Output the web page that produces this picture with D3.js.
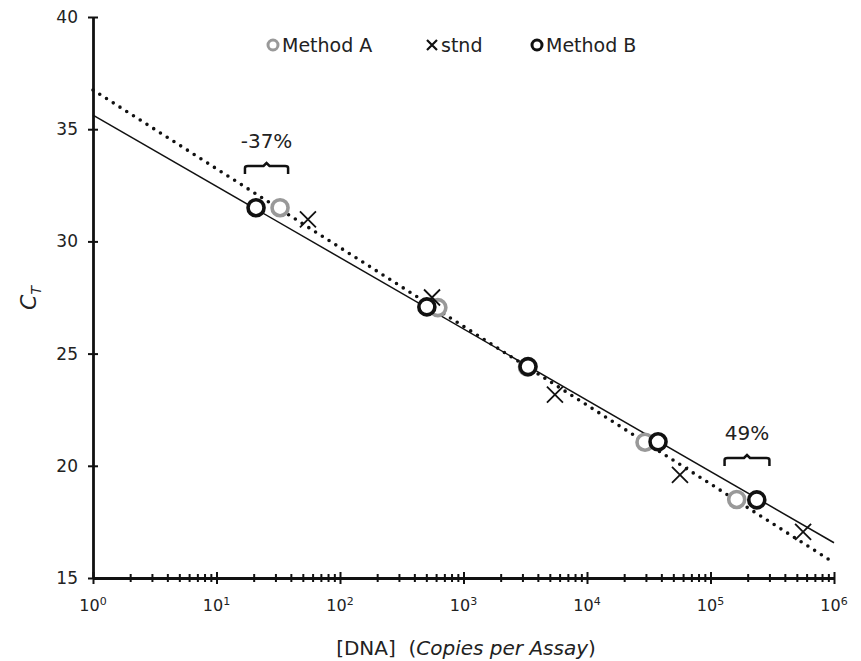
<!DOCTYPE html>
<html lang="en">
<head>
<meta charset="UTF-8">
<title>CT vs DNA</title>
<style>
body{margin:0;background:#fff;}
text{font-family:"DejaVu Sans",Verdana,sans-serif;fill:#222;}
</style>
</head>
<body>
<script src="https://cdn.jsdelivr.net/npm/d3@7"></script>
<script>
// copies per assay and CT values
var methodA_x=[32.7,620,3300,29500,163000]
var methodA_y=[31.5,27.05,24.4,21.05,18.5]
var stnd_x=[55,556,5500,56600,562000]
var stnd_y=[30.98,27.5,23.17,19.6,17.06]
var methodB_x=[20.9,505,3330,37600,237000]
var methodB_y=[31.5,27.08,24.42,21.07,18.48]
// fitted lines, ends at 10^0 and 10^6
var solidLine=[[1,35.63],[1e6,16.57]]
var dottedLine=[[1,36.75],[1e6,15.68]]
// brackets: [x from, x to, label]
var brackets=[[17,38,'-37%'],[130000,300000,'49%']]
var yTicks=[15,20,25,30,35,40]
var decades=[0,1,2,3,4,5,6]

var width=861,height=661,padding={left:93,right:27,top:17,bottom:83}

var svg=d3.select('body').append('svg').attr('width',width).attr('height',height)

var x=d3.scaleLog().domain([1,1e6]).range([padding.left,width-padding.right])
var y=d3.scaleLinear().domain([15,40]).range([height-padding.bottom,padding.top])

// x axis with minor ticks
var allTicks=[]
decades.forEach(function(d){
    for(var k=1;k<=9;k++){
        var v=k*Math.pow(10,d)
        if(v<=1e6) allTicks.push(v)
    }
})
var gx=svg.append('g').attr('transform','translate(0,'+y(15)+')')
    .call(d3.axisBottom(x).tickValues(allTicks).tickFormat('').tickSizeOuter(0))
gx.select('.domain').attr('stroke','#111').attr('stroke-width',2.8)
gx.selectAll('.tick line').attr('stroke','#111').attr('stroke-width',2)
    .attr('y1',function(d){return isMajor(d)?-6:-4})
    .attr('y2',function(d){return isMajor(d)?6:4})
function isMajor(d){var l=Math.log10(d);return Math.abs(l-Math.round(l))<1e-9}

var xl=svg.append('g').selectAll('text').data(decades).enter().append('text')
    .attr('x',function(d){return x(Math.pow(10,d))})
    .attr('y',y(15)+33)
    .attr('text-anchor','middle')
    .style('font-size','16px')
xl.append('tspan').text('10')
xl.append('tspan').attr('dy',-6).style('font-size','11px').text(function(d){return d})

// y axis
var gy=svg.append('g').attr('transform','translate('+x(1)+',0)')
    .call(d3.axisLeft(y).tickValues(yTicks).tickSizeOuter(0))
gy.select('.domain').attr('stroke','#111').attr('stroke-width',2.8)
gy.selectAll('.tick line').attr('stroke','#111').attr('stroke-width',2).attr('x1',5).attr('x2',-5)
gy.selectAll('.tick text').attr('x',-15).style('font-size','17px').style('font-family','"DejaVu Sans",Verdana,sans-serif').attr('fill','#222')

// axis titles
var xt=svg.append('text').attr('x',466).attr('y',655).attr('text-anchor','middle').style('font-size','20px')
xt.append('tspan').text('[DNA]\u00a0\u00a0(')
xt.append('tspan').style('font-style','italic').text('Copies per Assay')
xt.append('tspan').text(')')

var yt=svg.append('text').attr('transform','translate(36,298) rotate(-90)').attr('text-anchor','middle').style('font-size','22px')
yt.append('tspan').style('font-style','italic').text('C')
yt.append('tspan').attr('dy',5).style('font-size','14px').style('font-style','italic').text('T')

// fit lines
var line=d3.line().x(function(d){return x(d[0])}).y(function(d){return y(d[1])})
svg.append('path').datum(solidLine).attr('d',line).attr('fill','none').attr('stroke','#111').attr('stroke-width',1.5)
svg.append('path').datum(dottedLine).attr('d',line).attr('fill','none').attr('stroke','#111')
    .attr('stroke-width',3.6).attr('stroke-linecap','round').attr('stroke-dasharray','0,8')

// markers
function circles(xs,ys,color){
    svg.append('g').selectAll('circle').data(xs).enter().append('circle')
        .attr('cx',function(d){return x(d)})
        .attr('cy',function(d,i){return y(ys[i])})
        .attr('r',8).attr('fill','#fff').attr('stroke',color).attr('stroke-width',3.6)
}
circles(methodA_x,methodA_y,'#999')
var s=8
svg.append('g').selectAll('path').data(stnd_x).enter().append('path')
    .attr('d',function(d,i){
        var cx=x(d),cy=y(stnd_y[i])
        return 'M'+(cx-s)+','+(cy-s)+'L'+(cx+s)+','+(cy+s)+'M'+(cx-s)+','+(cy+s)+'L'+(cx+s)+','+(cy-s)
    })
    .attr('stroke','#111').attr('stroke-width',1.8).attr('fill','none')
circles(methodB_x,methodB_y,'#111')

// brackets
brackets.forEach(function(b,i){
    var x0=x(b[0]),x1=x(b[1]),xm=(x0+x1)/2
    var yb=i==0?174:466
    svg.append('path')
        .attr('d','M'+x0+','+yb+'L'+x0+','+(yb-6)+'Q'+x0+','+(yb-8)+' '+(x0+3)+','+(yb-8)
            +'L'+(xm-3)+','+(yb-8)+'L'+xm+','+(yb-11)+'L'+(xm+3)+','+(yb-8)
            +'L'+(x1-3)+','+(yb-8)+'Q'+x1+','+(yb-8)+' '+x1+','+(yb-6)+'L'+x1+','+yb)
        .attr('fill','none').attr('stroke','#111').attr('stroke-width',2.5)
    svg.append('text').attr('x',xm).attr('y',yb-26).attr('text-anchor','middle').style('font-size','20px').text(b[2])
})

// legend
var legend=[['Method A','circle','#999',273],['stnd','x','#111',432],['Method B','circle','#111',537]]
legend.forEach(function(l){
    var g=svg.append('g').attr('transform','translate('+l[3]+',45)')
    if(l[1]=='circle'){
        g.append('circle').attr('r',5).attr('fill','#fff').attr('stroke',l[2]).attr('stroke-width',3)
    }else{
        g.append('path').attr('d','M-5,-5L5,5M-5,5L5,-5').attr('stroke',l[2]).attr('stroke-width',2.2)
    }
    g.append('text').attr('x',9).attr('y',7).style('font-size','19px').text(l[0])
})
</script>
</body>
</html>
